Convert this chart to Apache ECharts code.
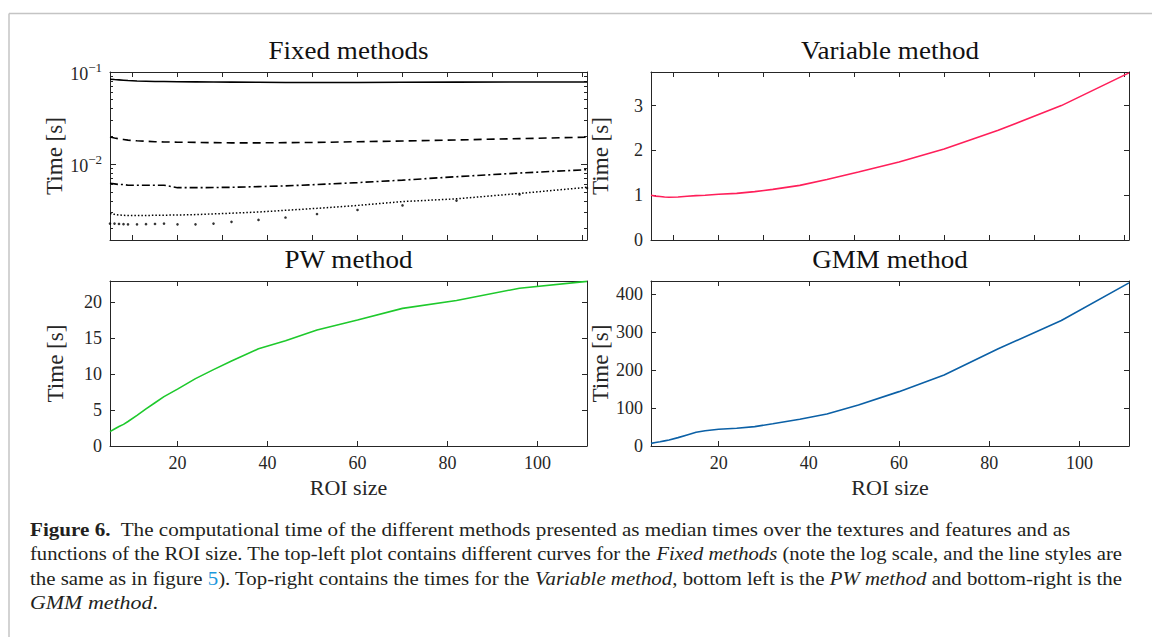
<!DOCTYPE html>
<html><head><meta charset="utf-8">
<script src="https://cdn.jsdelivr.net/npm/echarts@6/dist/echarts.min.js"></script>
<style>html,body{margin:0;padding:0;background:#fff}#c{width:1152px;height:637px}</style>
</head><body><div id="c"></div>
<script>
// ---------- data ----------
const roiSize = [5,6,7,8,9,11,13,15,17,20,24,28,32,38,44,51,60,70,82,96,111];
const fixedSolid   = [0.0835,0.0828,0.0822,0.0815,0.0808,0.0800,0.0795,0.0790,0.0788,0.0785,0.0782,0.0780,0.0777,0.0773,0.0770,0.0768,0.0770,0.0773,0.0776,0.0779,0.0780];
const fixedDashed  = [0.0197,0.0192,0.0188,0.0185,0.0182,0.0179,0.0177,0.0175,0.0174,0.0173,0.0172,0.0171,0.0170,0.0170,0.0171,0.0172,0.0175,0.0178,0.0183,0.0189,0.0196];
const fixedDashDot = [0.0062,0.0061,0.0060,0.0060,0.0059,0.0059,0.0059,0.0059,0.0059,0.00555,0.00555,0.00557,0.0056,0.0057,0.0058,0.0060,0.0063,0.0067,0.0073,0.0080,0.0087];
const fixedDotted  = [0.0029,0.00285,0.0028,0.00278,0.00277,0.00277,0.00277,0.00278,0.00279,0.0028,0.00283,0.00288,0.00293,0.00302,0.00315,0.00331,0.00356,0.00392,0.0042,0.0048,0.0056];
const fixedPoints  = [0.00226,0.00226,0.00224,0.00223,0.00222,0.00222,0.00223,0.00224,0.00226,0.00222,0.00222,0.00226,0.00236,0.00248,0.00263,0.00287,0.00318,0.00356,0.00402,0.00469,0.0055];
const variableTime = [1.0,0.98,0.97,0.96,0.955,0.96,0.975,0.99,1.0,1.02,1.04,1.08,1.13,1.22,1.35,1.52,1.74,2.03,2.45,3.0,3.73];
const pwTime       = [2.0,2.35,2.7,3.0,3.4,4.25,5.15,6.0,6.85,7.9,9.35,10.6,11.8,13.5,14.6,16.1,17.5,19.1,20.2,21.9,22.85];
const gmmTime      = [7,9,11,13.5,16,22,29,36,40,44,46.5,51,58.5,70.5,84,108,143,187,256,330,429];

const titles = ['Fixed methods','Variable method','PW method','GMM method'];
const xTicksTop = [10,20,30,40,50,60,70,80,90,100,110];
const xTicksBottom = [20,40,60,80,100];
const logMajor = [0.01,0.1];
const logMinor = [0.002,0.003,0.004,0.005,0.006,0.007,0.008,0.009,0.02,0.03,0.04,0.05,0.06,0.07,0.08,0.09];
const varTicks = [0,1,2,3];
const pwTicks = [0,5,10,15,20];
const gmmTicks = [0,100,200,300,400];
const yName = 'Time [s]';
const xName = 'ROI size';

const captionLines = [
  [{t:'Figure 6.',b:1},{t:'  The computational time of the different methods presented as median times over the textures and features and as'}],
  [{t:'functions of the ROI size. The top-left plot contains different curves for the '},{t:'Fixed methods',i:1},{t:' (note the log scale, and the line styles are'}],
  [{t:'the same as in figure '},{t:'5',l:1},{t:'). Top-right contains the times for the '},{t:'Variable method',i:1},{t:', bottom left is the '},{t:'PW method',i:1},{t:' and bottom-right is the'}],
  [{t:'GMM method',i:1},{t:'.'}]
];

// ---------- layout / style ----------
const SERIF = 'Liberation Serif';
const AX = '#262626';
const grids = [
  {left:110, top:72, width:477, height:168},
  {left:651, top:72, width:478, height:168},
  {left:110, top:281, width:477, height:165},
  {left:651, top:281, width:478, height:165}
];
const xMin = 5, xMax = 111;

function xAxis(g, pos, ticks, labels, name){
  return {
    type:'value', gridIndex:g, position:pos, min:xMin, max:xMax,
    axisLine:{show:true, onZero:false, lineStyle:{color:AX, width:1}},
    axisTick:{show:true, inside:true, length:5, customValues:ticks, lineStyle:{color:AX, width:1}},
    axisLabel:{show:!!labels, customValues:labels||[], color:AX, fontFamily:SERIF, fontSize:18, margin:8},
    splitLine:{show:false},
    name: name||'', nameLocation:'middle', nameGap:30,
    nameTextStyle:{color:AX, fontFamily:SERIF, fontSize:22}
  };
}
function yAxis(g, pos, min, max, ticks, labels, name, opts){
  const a = {
    type:'value', gridIndex:g, position:pos, min:min, max:max,
    axisLine:{show:true, onZero:false, lineStyle:{color:AX, width:1}},
    axisTick:{show:true, inside:true, length:5, customValues:ticks, lineStyle:{color:AX, width:1}},
    axisLabel:{show:!!labels, customValues:labels||[], color:AX, fontFamily:SERIF, fontSize:18, margin:8},
    splitLine:{show:false},
    name: name||'', nameLocation:'middle', nameGap:30,
    nameTextStyle:{color:AX, fontFamily:SERIF, fontSize:23}
  };
  return Object.assign(a, opts||{});
}

const xAxes = [];
const yAxes = [];
// grid 0 (log)
xAxes.push(xAxis(0,'bottom',xTicksTop,null));
xAxes.push(xAxis(0,'top',xTicksTop,null));
const logOpts = {type:'log', logBase:10};
const yTL = yAxes.length;
yAxes.push(yAxis(0,'left',0.0015,0.1,logMajor,logMajor,yName,Object.assign({},logOpts,{nameGap:41})));
yAxes[yTL].axisTick.length = 6;
yAxes[yTL].axisLabel.formatter = function(v){
  const e = Math.round(Math.log10(v));
  return '{b|10}{s|' + (e<0?'\u2212':'') + Math.abs(e) + '}';
};
yAxes[yTL].axisLabel.rich = {
  b:{fontFamily:SERIF, fontSize:18, color:AX, lineHeight:22, verticalAlign:'bottom'},
  s:{fontFamily:SERIF, fontSize:13, color:AX, lineHeight:13, verticalAlign:'top'}
};
yAxes.push(yAxis(0,'right',0.0015,0.1,logMajor,null,'',logOpts));
yAxes[yAxes.length-1].axisTick.length = 6;
yAxes.push(yAxis(0,'left',0.0015,0.1,logMinor,null,'',logOpts));
yAxes[yAxes.length-1].axisTick.length = 3;
yAxes[yAxes.length-1].axisLine.show = false;
yAxes.push(yAxis(0,'right',0.0015,0.1,logMinor,null,'',logOpts));
yAxes[yAxes.length-1].axisTick.length = 3;
yAxes[yAxes.length-1].axisLine.show = false;
// grid 1
xAxes.push(xAxis(1,'bottom',xTicksTop,null));
xAxes.push(xAxis(1,'top',xTicksTop,null));
const yTR = yAxes.length;
yAxes.push(yAxis(1,'left',0,3.75,varTicks,varTicks,yName,{nameGap:39}));
yAxes.push(yAxis(1,'right',0,3.75,varTicks,null));
// grid 2
const xBL = xAxes.length;
xAxes.push(xAxis(2,'bottom',xTicksBottom,xTicksBottom,xName));
xAxes.push(xAxis(2,'top',xTicksBottom,null));
const yBL = yAxes.length;
yAxes.push(yAxis(2,'left',0,22.9,pwTicks,pwTicks,yName,{nameGap:43}));
yAxes.push(yAxis(2,'right',0,22.9,pwTicks,null));
// grid 3
const xBR = xAxes.length;
xAxes.push(xAxis(3,'bottom',xTicksBottom,xTicksBottom,xName));
xAxes.push(xAxis(3,'top',xTicksBottom,null));
const yBR = yAxes.length;
yAxes.push(yAxis(3,'left',0,434,gmmTicks,gmmTicks,yName,{nameGap:39}));
yAxes.push(yAxis(3,'right',0,434,gmmTicks,null));

function pairs(ys){ return roiSize.map((x,i)=>[x, ys[i]]); }
function line(xi, yi, ys, color, type, width){
  return {type:'line', xAxisIndex:xi, yAxisIndex:yi, data:pairs(ys), showSymbol:false, symbol:'none',
    lineStyle:{color:color, width:width||1.5, type:type||'solid'}, silent:true, animation:false, z:3};
}
const series = [
  line(0, yTL, fixedSolid, '#000', 'solid', 1.6),
  line(0, yTL, fixedDashed, '#000', [8,5], 1.6),
  line(0, yTL, fixedDashDot, '#000', [8,3,2,3], 1.6),
  line(0, yTL, fixedDotted, '#000', [1.5,2], 1.5),
  {type:'scatter', xAxisIndex:0, yAxisIndex:yTL, data:pairs(fixedPoints), symbol:'circle', symbolSize:2.6,
    itemStyle:{color:'#000'}, silent:true, animation:false},
  line(2, yTR, variableTime, '#ff1f5a', 'solid', 1.6),
  line(xBL, yBL, pwTime, '#1ec92c', 'solid', 1.6),
  line(xBR, yBR, gmmTime, '#0b60a6', 'solid', 1.6)
];

// ---------- graphics: titles, frame, caption ----------
const graphic = [];
graphic.push({type:'line', shape:{x1:9,y1:13.5,x2:1152,y2:13.5}, style:{stroke:'#c4c4c4', lineWidth:1.5}, silent:true});
graphic.push({type:'line', shape:{x1:9,y1:13.5,x2:9,y2:637}, style:{stroke:'#c4c4c4', lineWidth:1.5}, silent:true});
titles.forEach((t,i)=>{
  const g = grids[i];
  graphic.push({type:'text', x:g.left+g.width/2, y:g.top-22, scaleX:1.04, silent:true,
    style:{text:t, fontFamily:SERIF, fontSize:26, fill:'#111', align:'center', verticalAlign:'middle'}});
});

const ctx = document.createElement('canvas').getContext('2d');
const CAP = 19.5;
function fontOf(s){ return (s.i?'italic ':'')+(s.b?'bold ':'')+CAP+'px ' + SERIF; }
const capTargets = [[30,1071],[30,1122],[30,1122],[30,158]];
const capY = [529,553,578,602];
const capRich = {
  n:{fontFamily:SERIF, fontSize:CAP, fill:'#231f20'},
  b:{fontFamily:SERIF, fontSize:CAP, fontWeight:'bold', fill:'#231f20'},
  i:{fontFamily:SERIF, fontSize:CAP, fontStyle:'italic', fill:'#231f20'},
  l:{fontFamily:SERIF, fontSize:CAP, fill:'#1b98dc'}
};
captionLines.forEach((segs, li)=>{
  let w = 0, txt = '';
  segs.forEach(s=>{
    ctx.font = fontOf(s); w += ctx.measureText(s.t).width;
    const k = s.b?'b':s.i?'i':s.l?'l':'n';
    txt += '{'+k+'|'+s.t+'}';
  });
  const target = capTargets[li][1]-capTargets[li][0];
  graphic.push({type:'text', x:capTargets[li][0], y:capY[li], scaleX: target/w, silent:true,
    style:{text:txt, rich:capRich, fontFamily:SERIF, fontSize:CAP, fill:'#231f20', align:'left', verticalAlign:'middle'}});
});

const chart = echarts.init(document.getElementById('c'), null, {renderer:'svg', width:1152, height:637});
chart.setOption({
  backgroundColor:'#fff',
  animation:false,
  grid: grids.map(g=>Object.assign({containLabel:false}, g)),
  xAxis: xAxes,
  yAxis: yAxes,
  series: series,
  graphic: graphic
});
</script>
</body></html>
